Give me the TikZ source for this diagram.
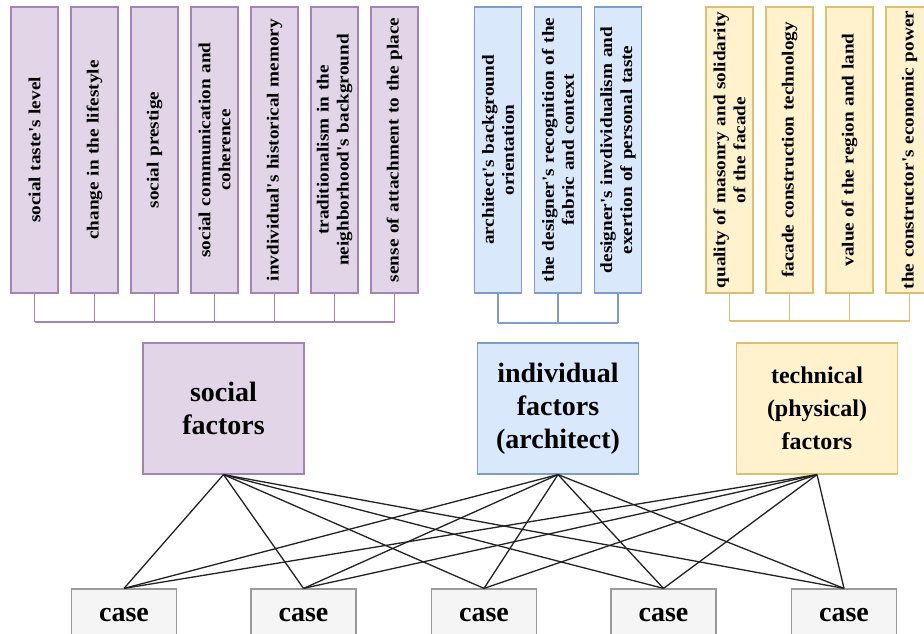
\documentclass[tikz,border=0pt]{standalone}
\usepackage{fontspec}
\setmainfont{Liberation Serif}
\newfontfamily\vfont{Liberation Serif}[FakeStretch=1.13]
\definecolor{pfill}{HTML}{E1D5E7}
\definecolor{pdraw}{HTML}{A385B5}
\definecolor{bfill}{HTML}{DAE8FC}
\definecolor{bdraw}{HTML}{7E9DCB}
\definecolor{yfill}{HTML}{FFF2CC}
\definecolor{ydraw}{HTML}{DCC070}
\definecolor{cfill}{HTML}{F5F5F5}
\definecolor{cdraw}{HTML}{9A9A9A}
\definecolor{edgec}{HTML}{222222}
\tikzset{
  vbox/.style={rotate=90, minimum width=286pt, minimum height=47pt, text width=280pt,
    inner xsep=3pt, inner ysep=0pt, align=center, line width=1.2pt,
    font=\vfont\bfseries\fontsize{17pt}{20pt}\selectfont},
  pst/.style={draw=pdraw, fill=pfill},
  bst/.style={draw=bdraw, fill=bfill},
  yst/.style={draw=ydraw, fill=yfill},
  mbox/.style={minimum width=161pt, minimum height=131pt, inner sep=0pt, align=center,
    line width=1.2pt, font=\bfseries\fontsize{28pt}{33pt}\selectfont},
  tfont/.style={font=\bfseries\fontsize{24pt}{33pt}\selectfont},
  cbox/.style={minimum width=105pt, minimum height=52pt, inner sep=0pt, draw=cdraw, fill=cfill,
    line width=1.2pt, font=\bfseries\fontsize{28pt}{33pt}\selectfont},
  pline/.style={draw=pdraw, line width=1.2pt},
  bline/.style={draw=bdraw, line width=1.2pt},
  yline/.style={draw=ydraw, line width=1.2pt},
  edge/.style={draw=edgec, line width=1.3pt}
}
\begin{document}
\begin{tikzpicture}[x=1pt,y=1pt]
\useasboundingbox (0,0) rectangle (924,634);
\clip (0,0) rectangle (924,634);
% social sub-factors
\node[vbox,pst] (p1) at (34.5,484) {social taste's level};
\node[vbox,pst] (p2) at (94.5,484) {change in the lifestyle};
\node[vbox,pst] (p3) at (154.5,484) {social prestige};
\node[vbox,pst] (p4) at (214.5,484) {social communication and\\coherence};
\node[vbox,pst] (p5) at (274.5,484) {invdividual's historical memory};
\node[vbox,pst] (p6) at (334.5,484) {traditionalism in the\\neighborhood's background};
\node[vbox,pst] (p7) at (394.5,484) {sense of attachment to the place};
% individual sub-factors
\node[vbox,bst] (b1) at (498,484) {architect's background\\orientation};
\node[vbox,bst] (b2) at (558,484) {the designer's recognition of the\\fabric and context};
\node[vbox,bst] (b3) at (618,484) {designer's invdividualism and\\exertion of personal taste};
% technical sub-factors
\node[vbox,yst] (y1) at (729.5,484) {quality of masonry and solidarity\\of the facade};
\node[vbox,yst] (y2) at (789.5,484) {facade construction technology};
\node[vbox,yst] (y3) at (849.5,484) {value of the region and land};
\node[vbox,yst] (y4) at (909.5,484) {the constructor's economic power};
% buses
\foreach \i in {1,...,7} \draw[pline] (p\i.west) -- (p\i.west |- 0,312);
\draw[pline] (p1.west |- 0,312) -- (p7.west |- 0,312);
\foreach \i in {1,2,3} \draw[bline] (b\i.west) -- (b\i.west |- 0,311);
\draw[bline] (b1.west |- 0,311) -- (b3.west |- 0,311);
\foreach \i in {1,...,4} \draw[yline] (y\i.west) -- (y\i.west |- 0,313);
\draw[yline] (y1.west |- 0,313) -- (y4.west |- 0,313);
% main factors
\node[mbox,pst] (soc) at (223.5,225.5) {social\\factors};
\node[mbox,bst] (ind) at (558,225.5) {individual\\factors\\(architect)};
\node[mbox,yst,tfont] (tec) at (817,225.5) {technical\\(physical)\\factors};
% cases
\node[cbox] (c1) at (124,19) {case};
\node[cbox] (c2) at (303.5,19) {case};
\node[cbox] (c3) at (484,19) {case};
\node[cbox] (c4) at (663.5,19) {case};
\node[cbox] (c5) at (844,19) {case};
% edges
\foreach \f in {soc,ind,tec}
  \foreach \c in {c1,c2,c3,c4,c5}
    \draw[edge] (\f.south) -- (\c.north);
\end{tikzpicture}
\end{document}
